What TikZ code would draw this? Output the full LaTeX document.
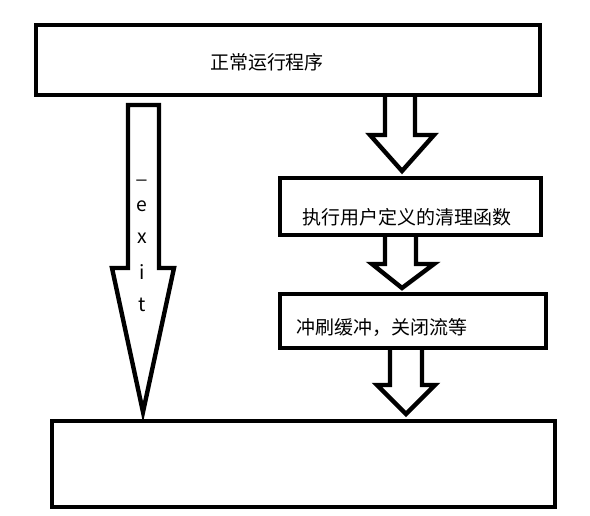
\documentclass[tikz,border=0pt]{standalone}
\usepackage{fontspec}
\usepackage{tikz}
\newfontfamily\cjk{Noto Sans CJK SC}

\begin{document}
\begin{tikzpicture}[x=0.02cm,y=-0.02cm]
\tikzstyle{every node}+=[inner sep=0pt]
\tikzstyle{thick box}=[draw=black, line width=2.5pt, line join=miter]
\tikzstyle{label cn}=[font=\cjk\fontsize{10.8}{13}\selectfont]
\tikzstyle{label exit}=[font=\cjk\fontsize{11}{13}\selectfont]
\useasboundingbox (0,0) rectangle (590,515);
% block arrows
\draw [thick box, fill=white] (128,105) -- (159,105) -- (159,268) -- (174,268) -- (143,412) -- (112,268) -- (128,268) -- cycle;
\draw [thick box] (385,94) -- (385,135) -- (370,135) -- (402,171) -- (434,135) -- (415,135) -- (415,94);
\draw [thick box] (385,235) -- (385,264) -- (372,264) -- (402,288) -- (434,264) -- (416,264) -- (416,235);
\draw [thick box] (390,348) -- (390,385) -- (377,385) -- (406,414) -- (435,385) -- (422,385) -- (422,348);
% boxes
\draw [thick box] (36,25) rectangle (540,95);
\draw (267,62) node [label cn] (run) {正常运行程序};
\draw [thick box] (280,178) rectangle (541,235);
\draw (407,217) node [label cn] (cleanup) {执行用户定义的清理函数};
\draw [thick box] (280,294) rectangle (546,348);
\draw (382,327) node [label cn] (flush) {冲刷缓冲，关闭流等};
\draw [thick box] (52,421) rectangle (555,507);
% _exit
\draw (142,180) node [label exit] (u) {\_};
\draw (142,206) node [label exit] (e) {e};
\draw (142,238) node [label exit] (x) {x};
\draw (142,272) node [label exit] (i) {i};
\draw (142,305) node [label exit] (t) {t};
\end{tikzpicture}
\end{document}
